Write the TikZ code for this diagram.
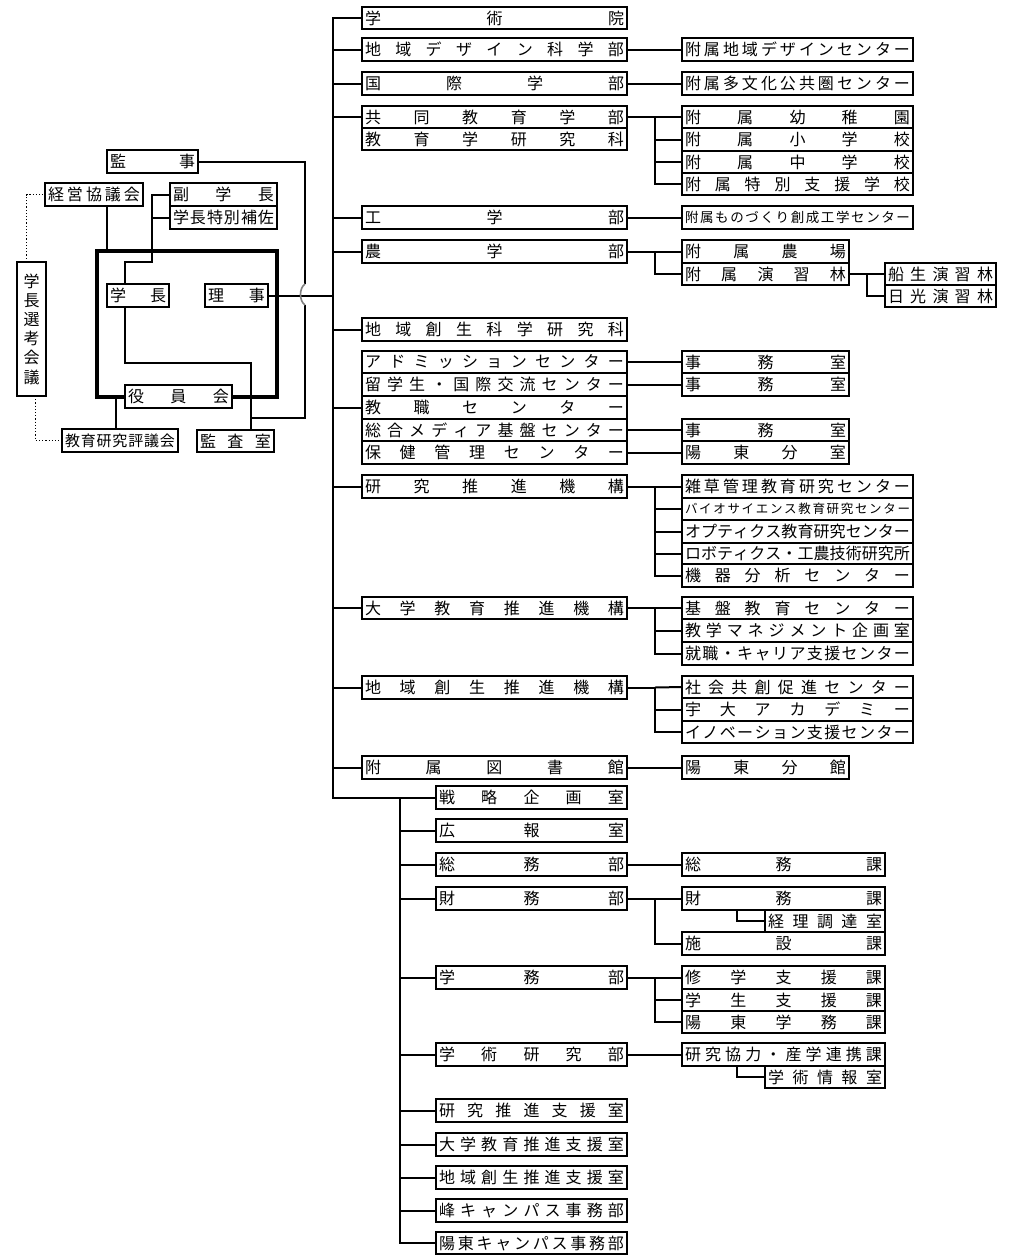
\documentclass[tikz,border=0pt]{standalone}
\usepackage{fontspec}
\setmainfont{Noto Sans CJK JP}
\ExplSyntaxOn
\bool_new:N \l_spr_first_bool
\NewDocumentCommand\spr{m}{
  \bool_set_true:N \l_spr_first_bool
  \tl_map_inline:nn {#1}{
    \bool_if:NTF \l_spr_first_bool {\bool_set_false:N \l_spr_first_bool}{\hfill}
    ##1
  }
}
\ExplSyntaxOff
\tikzset{
  bx/.style={draw=black, line width=2pt, fill=white, inner sep=0pt, outer sep=0pt},
  conn/.style={line width=2pt},
  dotconn/.style={line width=1.2pt, dotted},
  hop/.style={line width=1.6pt, gray}
}
\NewDocumentCommand\bx{O{16}mmmmmm}{%
  \pgfmathsetmacro\bxw{#5-#3}%
  \pgfmathsetmacro\bxh{#6-#4}%
  \pgfmathsetmacro\bxt{#5-#3-6}%
  \node[bx, minimum width=\bxw pt, minimum height=\bxh pt] (#2) at ({(#3+#5)/2},{(#4+#6)/2}) {\fontsize{#1}{#1}\selectfont\hbox to \bxt pt{\spr{#7}}};%
}
\begin{document}
\begin{tikzpicture}[x=1pt,y=-1pt]
\useasboundingbox[fill=white] (0,0) rectangle (1015,1256);

% ---------- left part ----------
\node[draw=black, line width=4pt, minimum width=180pt, minimum height=146pt, inner sep=0pt, outer sep=0pt] (frame) at (187,324) {};
\bx{kanji}{107}{150}{198}{173}{監事}
\bx{keiei}{45}{183}{143}{206}{経営協議会}
\bx{fuku}{170}{183}{277}{206}{副学長}
\bx{hosa}{170}{206}{277}{229}{学長特別補佐}
\bx{gakucho}{107}{284}{169}{307}{学長}
\bx{riji}{205}{284}{268}{307}{理事}
\bx[15]{hyogi}{62}{429}{178}{452}{教育研究評議会}
\bx{kansa}{197}{430}{274}{452}{監査室}
\node[bx, minimum width=29pt, minimum height=134pt] (senko) at (31.5,329) {};
\node[inner sep=0pt, align=center, font=\fontsize{16}{19.2}\selectfont] (senkot) at (senko.center) {学\\長\\選\\考\\会\\議};

% ---------- middle column ----------
\bx{gakujutsu}{362}{7}{627}{29}{学術院}
\bx{chiiki}{362}{38}{627}{61}{地域デザイン科学部}
\bx{kokusai}{362}{72}{627}{95}{国際学部}
\bx{kyodo}{362}{106}{627}{128}{共同教育学部}
\bx{kyoikuken}{362}{128}{627}{150}{教育学研究科}
\bx{kogaku}{362}{206}{627}{229}{工学部}
\bx{nogaku}{362}{240}{627}{263}{農学部}
\bx{sosei}{362}{318}{627}{341}{地域創生科学研究科}
\bx{adm}{362}{351}{627}{373}{アドミッションセンター}
\bx{ryu}{362}{373}{627}{396}{留学生・国際交流センター}
\bx{kyosyoku}{362}{396}{627}{419}{教職センター}
\bx{media}{362}{419}{627}{441}{総合メディア基盤センター}
\bx{hoken}{362}{441}{627}{464}{保健管理センター}
\bx{kenkyu}{362}{475}{627}{498}{研究推進機構}
\bx{daigaku}{362}{597}{627}{619}{大学教育推進機構}
\bx{chiikisuishin}{362}{676}{627}{699}{地域創生推進機構}
\bx{tosho}{362}{756}{627}{779}{附属図書館}

% ---------- right column (top) ----------
\bx{fzdesign}{682}{38}{913}{61}{附属地域デザインセンター}
\bx{fztabunka}{682}{72}{913}{95}{附属多文化公共圏センター}
\bx{fzA}{682}{106}{913}{128}{附属幼稚園}
\bx{fzB}{682}{128}{913}{151}{附属小学校}
\bx{fzC}{682}{151}{913}{173}{附属中学校}
\bx{fzD}{682}{173}{913}{195}{附属特別支援学校}
\bx[13.5]{fzmono}{682}{206}{913}{229}{附属ものづくり創成工学センター}
\bx{noujo}{682}{240}{849}{263}{附属農場}
\bx{enshu}{682}{263}{849}{285}{附属演習林}
\bx{funyu}{885}{263}{996}{285}{船生演習林}
\bx{nikko}{885}{285}{996}{307}{日光演習林}
\bx{jimuA}{682}{351}{849}{373}{事務室}
\bx{jimuB}{682}{373}{849}{396}{事務室}
\bx{jimuC}{682}{419}{849}{441}{事務室}
\bx{bunshitsu}{682}{441}{849}{464}{陽東分室}
\bx{zasso}{682}{475}{913}{498}{雑草管理教育研究センター}
\bx[12.5]{bio}{682}{498}{913}{520}{バイオサイエンス教育研究センター}
\bx{opt}{682}{520}{913}{543}{オプティクス教育研究センター}
\bx{robo}{682}{543}{913}{564}{ロボティクス・工農技術研究所}
\bx{kiki}{682}{564}{913}{587}{機器分析センター}
\bx{kiban}{682}{597}{913}{619}{基盤教育センター}
\bx{kyogaku}{682}{619}{913}{642}{教学マネジメント企画室}
\bx{shushoku}{682}{642}{913}{665}{就職・キャリア支援センター}
\bx{shakai}{682}{676}{913}{698}{社会共創促進センター}
\bx{udai}{682}{698}{913}{721}{宇大アカデミー}
\bx{innov}{682}{721}{913}{743}{イノベーション支援センター}
\bx{bunkan}{682}{756}{849}{779}{陽東分館}

% ---------- lower column ----------
\bx{senryaku}{436}{786}{627}{809}{戦略企画室}
\bx{koho}{436}{819}{627}{842}{広報室}
\bx{somu}{436}{853}{627}{876}{総務部}
\bx{zaimu}{436}{887}{627}{910}{財務部}
\bx{gakumu}{436}{966}{627}{989}{学務部}
\bx{gakujutsuken}{436}{1043}{627}{1066}{学術研究部}
\bx{kenshien}{436}{1099}{627}{1122}{研究推進支援室}
\bx{daishien}{436}{1133}{627}{1156}{大学教育推進支援室}
\bx{chishien}{436}{1166}{627}{1189}{地域創生推進支援室}
\bx{mine}{436}{1199}{627}{1222}{峰キャンパス事務部}
\bx{yoto}{436}{1232}{627}{1254}{陽東キャンパス事務部}

\bx{somuka}{682}{853}{885}{876}{総務課}
\bx{zaimuka}{682}{887}{885}{910}{財務課}
\bx{keiri}{765}{910}{885}{932}{経理調達室}
\bx{shisetsu}{682}{932}{885}{955}{施設課}
\bx{shugaku}{682}{966}{885}{989}{修学支援課}
\bx{gakusei}{682}{989}{885}{1011}{学生支援課}
\bx{yotogakumu}{682}{1011}{885}{1033}{陽東学務課}
\bx{kyoryoku}{682}{1043}{885}{1066}{研究協力・産学連携課}
\bx{joho}{765}{1066}{885}{1088}{学術情報室}

% ---------- connectors ----------
% main trunk
\draw[conn] (gakujutsu.west) -- ++(-29,0) coordinate (tt) -- (tt |- senryaku.west) -- (senryaku.west);
\foreach \n in {chiiki,kokusai,kyodo,kogaku,nogaku,sosei,kyosyoku,kenkyu,daigaku,chiikisuishin,tosho}
  \draw[conn] (\n.west) -- (\n.west -| tt);
% second trunk
\path (senryaku.west) ++(-36,0) coordinate (t2);
\draw[conn] (t2) -- (t2 |- yoto.west) -- (yoto.west);
\foreach \n in {koho,somu,zaimu,gakumu,gakujutsuken,kenshien,daishien,chishien,mine}
  \draw[conn] (\n.west) -- (\n.west -| t2);

% right side connectors
\draw[conn] (chiiki.east) -- (fzdesign.west);
\draw[conn] (kokusai.east) -- (fztabunka.west);
\draw[conn] (kogaku.east) -- (fzmono.west);
\draw[conn] (kyodo.east) -- ++(28,0) coordinate (j1) |- (fzD.west);
\draw[conn] (j1) -- (fzA.west);
\foreach \n in {fzB,fzC} \draw[conn] (\n.west) -- (\n.west -| j1);
\draw[conn] (nogaku.east) -- ++(28,0) coordinate (j2) |- (enshu.west);
\draw[conn] (j2) -- (noujo.west);
\draw[conn] (enshu.east) -- ++(18,0) coordinate (j3) |- (nikko.west);
\draw[conn] (j3) -- (funyu.west);
\draw[conn] (adm.east) -- (jimuA.west);
\draw[conn] (ryu.east) -- (jimuB.west);
\draw[conn] (media.east) -- (jimuC.west);
\draw[conn] (hoken.east) -- (bunshitsu.west);
\draw[conn] (kenkyu.east) -- ++(28,0) coordinate (j4) |- (kiki.west);
\draw[conn] (j4) -- (zasso.west);
\foreach \n in {bio,opt,robo} \draw[conn] (\n.west) -- (\n.west -| j4);
\draw[conn] (daigaku.east) -- ++(28,0) coordinate (j5) |- (shushoku.west);
\draw[conn] (j5) -- (kiban.west);
\draw[conn] (kyogaku.west) -- (kyogaku.west -| j5);
\draw[conn] (chiikisuishin.east) -- ++(28,0) coordinate (j6) |- (innov.west);
\draw[conn] (j6) -- (shakai.west);
\draw[conn] (udai.west) -- (udai.west -| j6);
\draw[conn] (tosho.east) -- (bunkan.west);
\draw[conn] (somu.east) -- (somuka.west);
\draw[conn] (zaimu.east) -- ++(28,0) coordinate (j7) |- (shisetsu.west);
\draw[conn] (j7) -- (zaimuka.west);
\draw[conn] ([xshift=-46.5]zaimuka.south) |- (keiri.west);
\draw[conn] (gakumu.east) -- ++(28,0) coordinate (j8) |- (yotogakumu.west);
\draw[conn] (j8) -- (shugaku.west);
\draw[conn] (gakusei.west) -- (gakusei.west -| j8);
\draw[conn] (gakujutsuken.east) -- (kyoryoku.west);
\draw[conn] ([xshift=-46.5]kyoryoku.south) |- (joho.west);

% left part connectors
\draw[conn] (keiei.south -| gakucho.west) -- (frame.north -| gakucho.west);
\coordinate (k1) at (152,262);
\draw[conn] (fuku.west) -| (k1) -| ([xshift=-13]gakucho.north);
\draw[conn] (hosa.west) -- (hosa.west -| k1);
\coordinate (k2) at (251,363);
\draw[conn] ([xshift=-13]gakucho.south) |- (k2) -- (k2 |- kansa.north);
\coordinate (hopA) at (305,284);
\coordinate (hopB) at (305,305);
\coordinate (k3) at (251,418);
\draw[conn] (kanji.east) -| (hopA);
\draw[conn] (hopB) |- (k3);
\draw[conn] (riji.east) -- (riji.east -| tt);
\draw[hop] (hopA) .. controls (299,288) and (299,301) .. (hopB);
\coordinate (k4) at (116,0);
\draw[conn] (frame.south -| k4) -- (hyogi.north -| k4);
\draw[dotconn] ([xshift=-5]senko.north) |- (keiei.west);
\draw[dotconn] ([xshift=4]senko.south) |- (hyogi.west);

% box on the frame's lower edge
\bx{yakuin}{125}{385}{232}{408}{役員会}
\end{tikzpicture}
\end{document}
